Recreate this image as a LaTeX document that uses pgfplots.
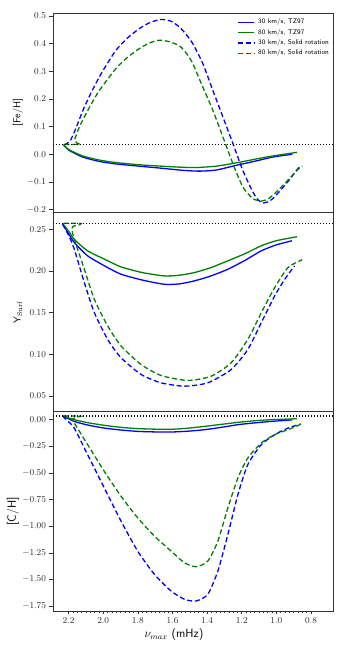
\documentclass[border=0pt]{standalone}
\usepackage{pgfplots}
\pgfplotsset{compat=1.18}
\definecolor{mplblue}{RGB}{0,0,255}
\definecolor{mplgreen}{RGB}{0,128,0}
\pgfplotsset{
  panel/.style={
    scale only axis, width=280pt, height=199.3pt, anchor=south west,
    x dir=reverse, xmin=0.673, xmax=2.29,
    axis line style={black!80, line width=0.6pt},
    tick align=outside, ytick pos=left, xtick pos=bottom,
    major tick length=3.5pt, minor tick length=2pt,
    tick style={black!80, line width=0.5pt},
    ticklabel style={font=\fontsize{9}{10}\selectfont, text=black!85},
    /pgf/number format/fixed, /pgf/number format/fixed zerofill,
    ylabel style={at={(axis description cs:-0.125,0.5)}, anchor=center, font=\fontsize{10}{12}\sffamily},
    clip=true,
  },
  ref/.style={black, line width=1.2pt, dash pattern=on 1.2pt off 1.8pt, forget plot},
}
\tikzset{
  s30/.style={color=mplblue, line width=1.3pt, smooth, tension=0.4},
  s80/.style={color=mplgreen, line width=1.3pt, smooth, tension=0.4},
  d30/.style={color=mplblue, line width=1.3pt, dash pattern=on 5pt off 2.8pt, smooth, tension=0.4},
  d80/.style={color=mplgreen, line width=1.3pt, dash pattern=on 5pt off 2.8pt, smooth, tension=0.4},
  legtxt/.style={anchor=west, inner sep=0pt, text=black, font=\fontsize{6.8}{8}\sffamily},
}
\begin{document}
\begin{tikzpicture}
\useasboundingbox (0,0) rectangle (350pt,650pt);

% legend keys of the top panel (lines first, then the texts)
\begin{scope}
\draw[mplblue, line width=1.3pt] (238pt,627.7pt) -- (254pt,627.7pt);
\end{scope}
\begin{scope}
\draw[mplgreen, line width=1.3pt] (238pt,617.4pt) -- (254pt,617.4pt);
\end{scope}
\begin{scope}
\draw[mplblue, line width=1.3pt, dash pattern=on 5pt off 2.8pt] (238pt,607.1pt) -- (254pt,607.1pt);
\end{scope}
\begin{scope}
\draw[mplgreen, line width=1.3pt, dash pattern=on 5pt off 2.8pt] (238pt,596.8pt) -- (254pt,596.8pt);
\end{scope}
\node[legtxt] at (258pt,627.7pt) {30 km/s, TZ97};
\node[legtxt] at (258pt,617.4pt) {80 km/s, TZ97};
\node[legtxt] at (258pt,607.1pt) {30 km/s, Solid rotation};
\node[legtxt] at (258pt,596.8pt) {80 km/s, Solid rotation};

% [Fe/H]
\begin{axis}[panel, at={(53pt,437.6pt)},
  ymin=-0.21, ymax=0.51, ytick={-0.2,-0.1,0,0.1,0.2,0.3,0.4,0.5},
  yticklabel style={/pgf/number format/precision=1},
  xtick=\empty,
  ylabel={[Fe/H]}]
\addplot[s30] coordinates {(2.230,0.034)(2.196,0.014)(2.119,-0.010)(2.022,-0.026)(1.926,-0.035)(1.791,-0.043)(1.637,-0.052)(1.541,-0.058)(1.444,-0.061)(1.348,-0.057)(1.232,-0.040)(1.116,-0.024)(1.020,-0.010)(0.908,0.000)};
\addplot[s80] coordinates {(2.230,0.034)(2.196,0.016)(2.119,-0.006)(2.022,-0.021)(1.926,-0.030)(1.791,-0.038)(1.637,-0.044)(1.541,-0.047)(1.463,-0.048)(1.348,-0.043)(1.232,-0.031)(1.116,-0.017)(1.020,-0.006)(0.881,0.007)};
\addplot[d30] coordinates {(2.225,0.035)(2.194,0.045)(2.160,0.090)(2.117,0.159)(2.070,0.222)(2.022,0.280)(1.974,0.330)(1.926,0.376)(1.860,0.420)(1.791,0.454)(1.730,0.476)(1.666,0.487)(1.610,0.481)(1.560,0.460)(1.520,0.432)(1.483,0.400)(1.425,0.328)(1.367,0.231)(1.309,0.135)(1.251,0.039)(1.194,-0.058)(1.136,-0.136)(1.105,-0.165)(1.078,-0.176)(1.050,-0.172)(1.020,-0.160)(0.943,-0.106)(0.876,-0.052)(0.866,-0.046)};
\addplot[d80] coordinates {(2.225,0.035)(2.180,0.035)(2.135,0.036)(2.150,0.040)(2.165,0.052)(2.155,0.070)(2.140,0.095)(2.119,0.123)(2.070,0.180)(2.022,0.231)(1.926,0.310)(1.860,0.350)(1.791,0.382)(1.730,0.403)(1.675,0.412)(1.620,0.407)(1.560,0.392)(1.520,0.365)(1.483,0.328)(1.425,0.243)(1.367,0.159)(1.309,0.063)(1.251,-0.034)(1.194,-0.118)(1.136,-0.160)(1.087,-0.169)(1.050,-0.162)(1.020,-0.148)(0.943,-0.100)(0.876,-0.055)(0.850,-0.042)};
\addplot[ref] coordinates {(0.673,0.035)(2.29,0.035)};
\end{axis}

% Y_Surf
\begin{axis}[panel, at={(53pt,238.3pt)},
  ymin=0.031, ymax=0.2705, ytick={0.05,0.10,0.15,0.20,0.25},
  yticklabel style={/pgf/number format/precision=2},
  xtick=\empty,
  ylabel={Y$_{\mathrm{Surf}}$}]
\addplot[s30] coordinates {(2.234,0.257)(2.200,0.245)(2.167,0.2343)(2.090,0.2183)(1.990,0.206)(1.897,0.1962)(1.770,0.189)(1.647,0.1841)(1.560,0.1846)(1.473,0.1882)(1.380,0.194)(1.280,0.2022)(1.180,0.213)(1.087,0.2243)(1.000,0.2315)(0.910,0.2364)};
\addplot[s80] coordinates {(2.234,0.257)(2.200,0.248)(2.167,0.238)(2.090,0.2243)(1.990,0.214)(1.897,0.2050)(1.770,0.198)(1.647,0.1942)(1.560,0.195)(1.473,0.1982)(1.380,0.204)(1.280,0.2123)(1.180,0.221)(1.087,0.2304)(1.000,0.2365)(0.881,0.2412)};
\addplot[d30] coordinates {(2.235,0.2564)(2.200,0.243)(2.167,0.2263)(2.109,0.1861)(2.051,0.150)(1.974,0.1178)(1.897,0.0958)(1.781,0.0757)(1.666,0.0657)(1.531,0.0617)(1.396,0.0657)(1.261,0.0817)(1.165,0.1058)(1.087,0.138)(1.010,0.170)(0.952,0.190)(0.895,0.2063)};
\addplot[d80] coordinates {(2.230,0.2575)(2.150,0.2575)(2.128,0.257)(2.140,0.2555)(2.175,0.2535)(2.180,0.249)(2.167,0.2383)(2.109,0.2022)(2.051,0.166)(1.974,0.134)(1.897,0.110)(1.781,0.0877)(1.666,0.0745)(1.512,0.0685)(1.376,0.0737)(1.261,0.0898)(1.165,0.1178)(1.087,0.150)(1.010,0.180)(0.933,0.2042)(0.852,0.2135)};
\addplot[ref] coordinates {(0.673,0.2572)(2.29,0.2572)};
\end{axis}

% [C/H]
\begin{axis}[panel, at={(53pt,39pt)},
  ymin=-1.797, ymax=0.075, ytick={-1.75,-1.5,-1.25,-1,-0.75,-0.5,-0.25,0},
  yticklabel style={/pgf/number format/precision=2},
  xtick={0.8,1.0,1.2,1.4,1.6,1.8,2.0,2.2}, minor x tick num=7,
  xticklabel style={/pgf/number format/precision=1},
  ylabel={[C/H]},
  ylabel style={at={(axis description cs:-0.143,0.5)}, font=\fontsize{12}{14}\sffamily},
  xlabel={$\nu_{max}$ \textsf{(mHz)}},
  xlabel style={at={(axis description cs:0.432,-0.12)}, anchor=center, font=\fontsize{12}{14}\selectfont}]
\addplot[s30] coordinates {(2.230,0.034)(2.167,-0.016)(2.090,-0.050)(1.994,-0.079)(1.897,-0.097)(1.801,-0.110)(1.700,-0.115)(1.608,-0.116)(1.510,-0.108)(1.415,-0.094)(1.318,-0.072)(1.222,-0.047)(1.125,-0.030)(1.029,-0.016)(0.910,-0.002)};
\addplot[s80] coordinates {(2.230,0.034)(2.167,0.000)(2.090,-0.028)(1.994,-0.053)(1.897,-0.072)(1.801,-0.084)(1.700,-0.089)(1.608,-0.090)(1.510,-0.080)(1.415,-0.063)(1.318,-0.044)(1.222,-0.025)(1.125,-0.010)(1.029,0.000)(0.881,0.009)};
\addplot[d30] coordinates {(2.235,0.034)(2.200,-0.020)(2.167,-0.079)(2.090,-0.328)(1.994,-0.641)(1.897,-0.953)(1.801,-1.234)(1.704,-1.453)(1.608,-1.609)(1.531,-1.687)(1.463,-1.703)(1.396,-1.640)(1.338,-1.422)(1.280,-1.078)(1.222,-0.703)(1.165,-0.422)(1.087,-0.234)(1.010,-0.141)(0.933,-0.079)(0.860,-0.041)};
\addplot[d80] coordinates {(2.230,0.034)(2.150,0.034)(2.130,0.032)(2.160,0.020)(2.180,0.000)(2.167,-0.032)(2.090,-0.234)(1.994,-0.485)(1.897,-0.719)(1.801,-0.922)(1.704,-1.094)(1.608,-1.234)(1.531,-1.344)(1.463,-1.381)(1.396,-1.328)(1.338,-1.141)(1.280,-0.828)(1.222,-0.547)(1.165,-0.360)(1.087,-0.219)(1.010,-0.141)(0.933,-0.094)(0.856,-0.041)};
\addplot[ref] coordinates {(0.673,0.034)(2.29,0.034)};
\end{axis}
\end{tikzpicture}
\end{document}
